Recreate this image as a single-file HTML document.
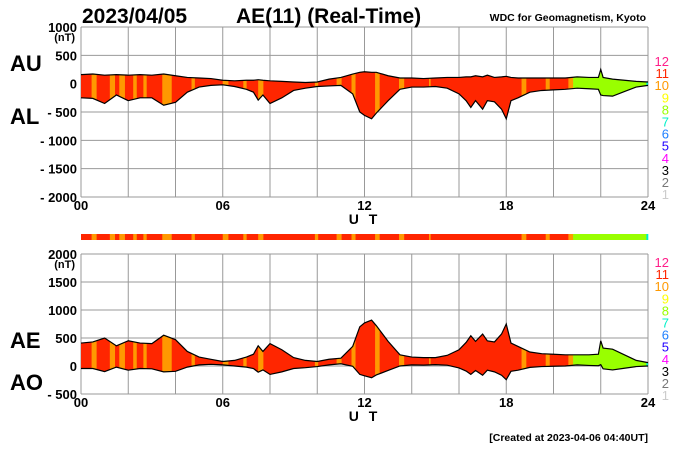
<!DOCTYPE html>
<html><head><meta charset="utf-8"><style>
body{margin:0;background:#fff;width:700px;height:450px;overflow:hidden}
svg text{font-family:"Liberation Sans",sans-serif;font-weight:bold}
</style></head><body>
<svg id="c" width="700" height="450" xmlns="http://www.w3.org/2000/svg"></svg>
<script>
// ---- data ----
const hours = [0,0.5,1,1.5,2,2.5,3,3.5,4,4.5,5,5.5,6,6.5,7,7.3,7.5,7.7,8,8.5,9,9.5,10,10.5,11,11.5,11.8,12,12.3,12.5,13,13.5,14,14.5,15,15.5,16,16.3,16.5,16.7,17,17.2,17.5,17.8,18,18.2,18.5,19,19.5,20,20.5,21,21.5,21.9,22.0,22.1,22.5,23,23.5,24];
const auValues = [160,170,150,160,150,160,150,170,140,110,100,90,60,50,60,60,70,60,50,40,30,20,30,80,110,170,200,210,200,200,140,100,100,90,100,110,110,120,120,140,120,150,110,120,130,110,100,100,100,100,100,120,110,110,250,110,80,60,40,30];
const alValues = [-250,-260,-350,-200,-300,-250,-250,-380,-330,-150,-60,-30,-20,-50,-100,-150,-290,-200,-350,-250,-120,-80,-50,-40,-30,-180,-500,-560,-620,-520,-300,-100,-60,-60,-50,-80,-180,-300,-420,-300,-450,-300,-320,-450,-620,-300,-250,-150,-120,-110,-100,-80,-90,-100,-200,-210,-220,-140,-60,-30];
const segStarts = [0,0.45,0.66,1.22,1.44,1.62,1.86,2.21,2.36,2.64,2.78,3.44,3.84,4.68,4.82,6.0,6.24,6.87,7.01,7.5,7.72,9.9,10.04,10.82,11.03,11.45,11.62,12.45,12.64,13.46,13.68,14.73,14.8,18.65,18.85,19.67,19.84,20.63,20.83,23.93];
const segStations = [11,10,11,10,11,10,11,10,11,10,11,10,11,10,11,10,11,10,11,10,11,10,11,10,11,10,11,10,11,10,11,10,11,10,11,10,11,10,8,7];
const topTicks = [1000,500,0,-500,-1000,-1500,-2000];
const topTickLabels = ["1000","500","0","- 500","- 1000","- 1500","- 2000"];
const botTicks = [2000,1500,1000,500,0,-500];
const botTickLabels = ["2000","1500","1000","500","0","- 500"];
const xTicks = [0,6,12,18,24];
const xTickLabels = ["00","06","12","18","24"];
const legendNums = [12,11,10,9,8,7,6,5,4,3,2,1];
const stationColors = {12:"#ff1f8a",11:"#ff2600",10:"#ff9900",9:"#ffff00",8:"#99ff00",7:"#00f0c8",6:"#1e7fff",5:"#2200ff",4:"#ff00ff",3:"#000",2:"#777",1:"#ccc"};

const NS="http://www.w3.org/2000/svg";
const svg=document.getElementById('c');
function el(t,a,p){const e=document.createElementNS(NS,t);for(const k in a)e.setAttribute(k,a[k]);(p||svg).appendChild(e);return e;}
const X0=81,X1=648;
const x=h=>X0+(X1-X0)*h/24;
const panels=[
 {name:'top',y0:27,y1:197,min:-2000,max:1000,ticks:topTicks,labels:topTickLabels,
  up:auValues,lo:alValues,labUp:'AU',labLo:'AL',labUpY:71,labLoY:124,legY:61},
 {name:'bottom',y0:254,y1:394,min:-500,max:2000,ticks:botTicks,labels:botTickLabels,
  up:auValues.map((v,i)=>v-alValues[i]),lo:auValues.map((v,i)=>(v+alValues[i])/2),labUp:'AE',labLo:'AO',labUpY:348,labLoY:390,legY:262}
];
panels.forEach((P,pi)=>{
  const y=v=>P.y1-(v-P.min)/(P.max-P.min)*(P.y1-P.y0);
  const g=el('g',{});
  
  
  for(let h=0;h<=24;h+=2){const l=el('line',{x1:x(h),x2:x(h),y1:P.y0,y2:P.y1,stroke:'#999','stroke-width':1},g);
    }
  P.ticks.forEach((t,i)=>{
    const l=el('line',{x1:X0,x2:X1,y1:y(t),y2:y(t),stroke:'#999','stroke-width':1},g);
    
    const tx=el('text',{x:77,y:y(t)+5,'text-anchor':'end','font-size':13},g);tx.textContent=P.labels[i];
    
  });
  const nt=el('text',{x:75,y:P.y0+14,'text-anchor':'end','font-size':11},g);nt.textContent='(nT)';
  
  let pts=hours.map((h,i)=>x(h)+','+y(P.up[i]));
  let pts2=hours.map((h,i)=>x(h)+','+y(P.lo[i])).reverse();
  const cid='clip'+pi;
  const cp=el('clipPath',{id:cid},svg);
  el('polygon',{points:pts.concat(pts2).join(' ')},cp);
  const fg=el('g',{'clip-path':'url(#'+cid+')'},g);
  segStarts.forEach((s,i)=>{
    const e=i<segStarts.length-1?segStarts[i+1]:24;
    const r=el('rect',{x:x(s),y:P.y0,width:x(e)-x(s)+0.3,height:P.y1-P.y0,fill:stationColors[segStations[i]]},fg);
    
  });
  const lu=el('polyline',{points:pts.join(' '),fill:'none',stroke:'#000','stroke-width':1.2},g);
  
  const ll=el('polyline',{points:hours.map((h,i)=>x(h)+','+y(P.lo[i])).join(' '),fill:'none',stroke:'#000','stroke-width':1.2},g);
  
  xTicks.forEach((h,i)=>{const t=el('text',{x:x(h),y:P.y1+13,'text-anchor':'middle','font-size':13},g);t.textContent=xTickLabels[i];
    });
  const ut=el('text',{x:x(12),y:P.y1+27,'text-anchor':'middle','font-size':14,'letter-spacing':'3'},g);ut.textContent='U T';
  
  const a=el('text',{x:10,y:P.labUpY,'font-size':22},g);a.textContent=P.labUp;
  
  const b=el('text',{x:10,y:P.labLoY,'font-size':22},g);b.textContent=P.labLo;
  
  legendNums.forEach((n,i)=>{const t=el('text',{x:669,y:P.legY+5+i*12.1,'text-anchor':'end','font-size':13,fill:stationColors[n],style:'font-weight:normal'},g);t.textContent=n;
    });
});
segStarts.forEach((s,i)=>{
  const e=i<segStarts.length-1?segStarts[i+1]:24;
  const r=el('rect',{x:x(s),y:234,width:x(e)-x(s)+0.3,height:6,fill:stationColors[segStations[i]]});
  
});
const t1=el('text',{x:82,y:23,'font-size':21});t1.textContent='2023/04/05';

const t2=el('text',{x:236,y:23,'font-size':21});t2.textContent='AE(11) (Real-Time)';

const t3=el('text',{x:646,y:21,'text-anchor':'end','font-size':10.5});t3.textContent='WDC for Geomagnetism, Kyoto';

const t4=el('text',{x:648,y:441,'text-anchor':'end','font-size':10.5});t4.textContent='[Created at 2023-04-06 04:40UT]';

</script>
</body></html>
